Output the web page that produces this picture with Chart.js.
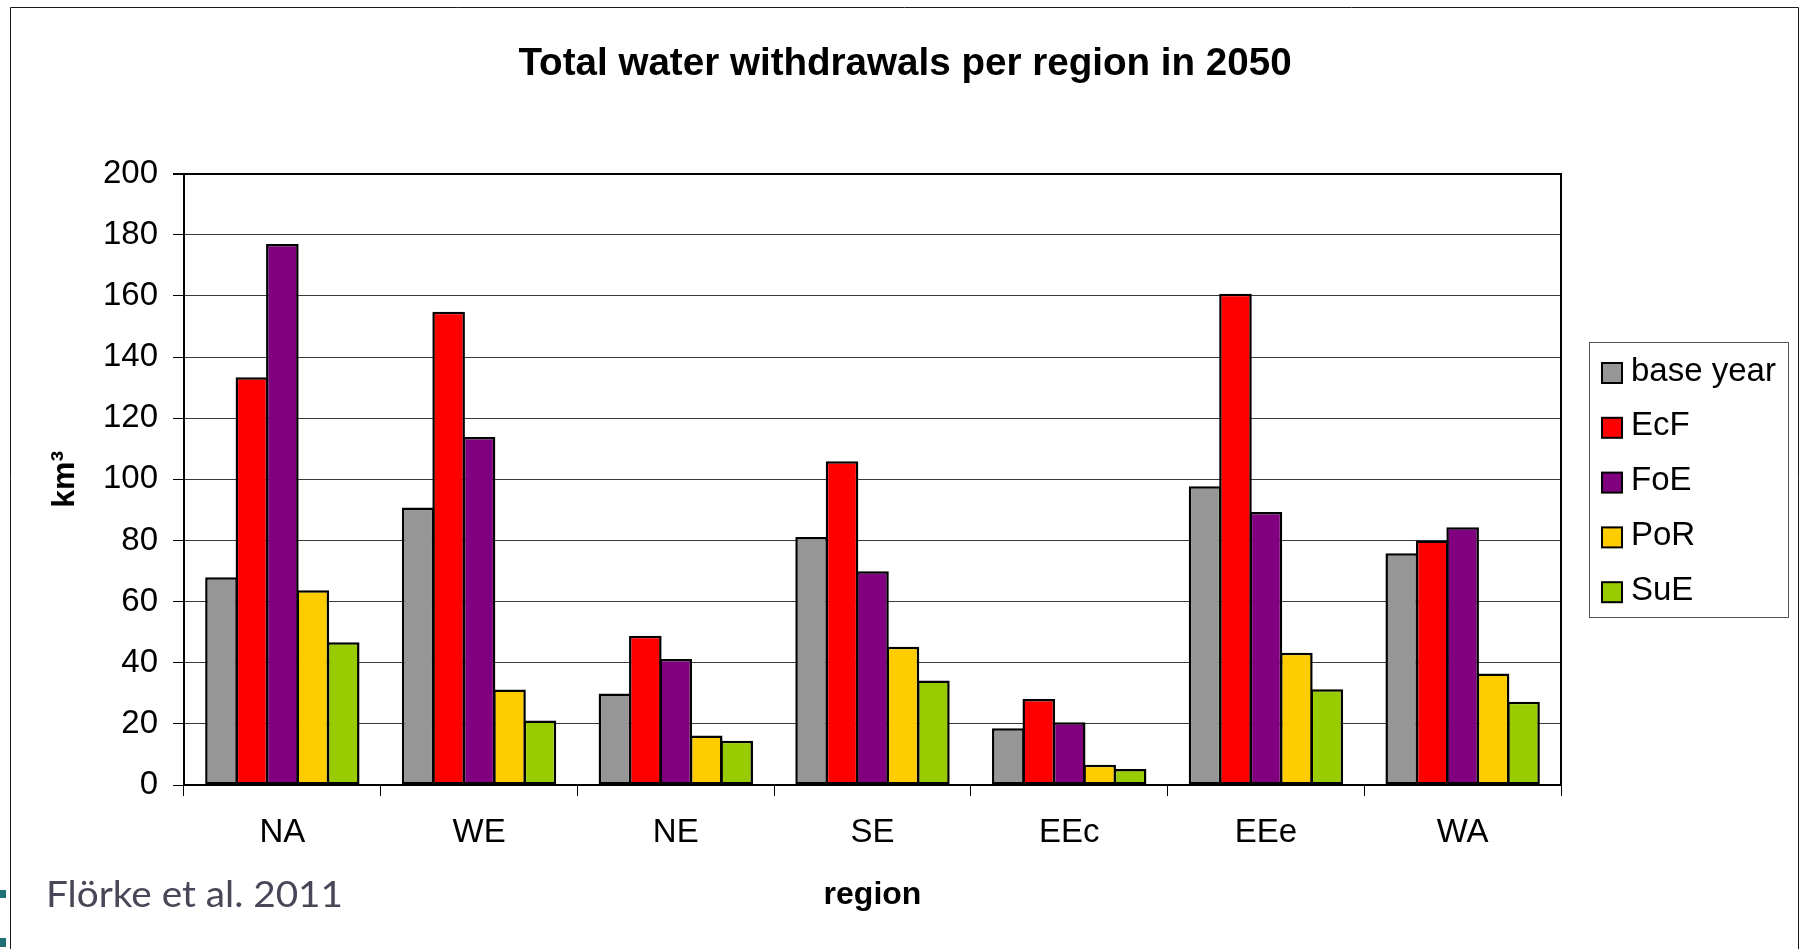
<!DOCTYPE html>
<html>
<head>
<meta charset="utf-8">
<title>Total water withdrawals per region in 2050</title>
<script src="https://cdn.jsdelivr.net/npm/chart.js@4.4.1/dist/chart.umd.min.js"></script>
<style>
  html, body { margin: 0; padding: 0; background: #ffffff; }
  canvas { display: block; }
</style>
</head>
<body>
<canvas id="chart" width="1802" height="949"></canvas>
<script>
// Regions on the x axis
const regions = ['NA', 'WE', 'NE', 'SE', 'EEc', 'EEe', 'WA'];

// Withdrawals per scenario (km³)
const baseYear = [68.0, 90.8, 29.9, 81.1, 18.6, 97.7, 75.8];
const ecF      = [133.4, 154.8, 48.8, 105.9, 28.1, 160.7, 80.0];
const foE      = [177.0, 113.8, 41.2, 69.9, 20.5, 89.3, 84.3];
const poR      = [63.7, 31.2, 16.2, 45.2, 6.6, 43.3, 36.5];
const suE      = [46.7, 21.1, 14.5, 34.2, 5.2, 31.3, 27.2];

// Series names and fills
const seriesNames  = ['base year', 'EcF', 'FoE', 'PoR', 'SuE'];
const seriesValues = [baseYear, ecF, foE, poR, suE];
const seriesColors = ['#969696', '#ff0000', '#800080', '#ffcc00', '#99cc00'];

// Value axis range
const yMin = 0;
const yMax = 200;
const yStep = 20;

const FONT = '"Liberation Sans", Arial, Helvetica, sans-serif';
Chart.defaults.font.family = FONT;
Chart.defaults.color = '#000000';

// Slide frame around the chart plus the citation line
const slideFrame = {
  id: 'slideFrame',
  beforeDraw(chart) {
    const ctx = chart.ctx;
    ctx.save();
    ctx.fillStyle = '#ffffff';
    ctx.fillRect(0, 0, chart.width, chart.height);
    ctx.strokeStyle = '#1a1a1a';
    ctx.lineWidth = 1;
    ctx.beginPath();
    ctx.moveTo(10.5, 949);
    ctx.lineTo(10.5, 7.5);
    ctx.lineTo(1798.5, 7.5);
    ctx.lineTo(1798.5, 949);
    ctx.stroke();
    ctx.fillStyle = '#1f6f73';
    ctx.fillRect(0, 890, 6, 8);
    ctx.fillRect(0, 938, 6, 9);
    ctx.restore();
  },
  afterDraw(chart) {
    const ctx = chart.ctx;
    ctx.save();
    const txt = 'Flörke et al. 2011';
    ctx.font = '37px Lato, "Open Sans", sans-serif';
    ctx.fillStyle = '#474758';
    ctx.textBaseline = 'alphabetic';
    const w = ctx.measureText(txt).width;
    ctx.translate(46, 907);
    ctx.scale(297 / w, 1);
    ctx.fillText(txt, 0, 0);
    ctx.restore();
  }
};

// Boxed legend at the right of the plot
const boxedLegend = {
  id: 'boxedLegend',
  afterDraw(chart) {
    const ctx = chart.ctx;
    ctx.save();
    ctx.strokeStyle = '#555555';
    ctx.lineWidth = 1;
    ctx.strokeRect(1589.5, 342.5, 199, 275);
    ctx.font = '33px ' + FONT;
    ctx.textBaseline = 'middle';
    ctx.textAlign = 'left';
    chart.data.datasets.forEach((ds, i) => {
      const cy = 373 + i * 54.8;
      ctx.fillStyle = ds.backgroundColor;
      ctx.fillRect(1602, cy - 10, 20, 20);
      ctx.strokeStyle = '#000000';
      ctx.lineWidth = 2;
      ctx.strokeRect(1602, cy - 10, 20, 20);
      ctx.fillStyle = '#000000';
      ctx.fillText(ds.label, 1631, cy - 1.5);
    });
    ctx.restore();
  }
};

const datasets = seriesNames.map((name, i) => ({
  label: name,
  data: seriesValues[i],
  backgroundColor: seriesColors[i],
  borderColor: '#000000',
  borderWidth: 2.5,
  borderSkipped: false,
  categoryPercentage: 0.774,
  barPercentage: 1.07,
  yAxisID: 'y'
}));

new Chart(document.getElementById('chart'), {
  type: 'bar',
  data: { labels: regions, datasets },
  options: {
    responsive: false,
    animation: false,
    devicePixelRatio: 1,
    layout: { padding: { left: 8, right: 0, top: 0, bottom: 0 } },
    plugins: {
      legend: { display: false },
      tooltip: { enabled: false },
      title: {
        display: true,
        text: 'Total water withdrawals per region in 2050',
        color: '#000000',
        font: { family: FONT, size: 38.6, weight: 'bold' },
        padding: { top: 41.5, bottom: 85.8 }
      }
    },
    scales: {
      x: {
        grid: {
          display: true,
          offset: true,
          drawOnChartArea: false,
          drawTicks: true,
          tickLength: 11,
          color: '#000000',
          lineWidth: 1
        },
        border: { display: true, color: '#000000', width: 2 },
        ticks: { color: '#000000', font: { size: 33 }, padding: 17.5 },
        title: {
          display: true,
          text: 'region',
          color: '#000000',
          font: { size: 32, weight: 'bold' },
          padding: { top: 0, bottom: 34.7 }
        },
        afterFit(scale) { scale.height = 164; }
      },
      y: {
        position: 'left',
        min: yMin,
        max: yMax,
        ticks: { stepSize: yStep, color: '#000000', font: { size: 33 }, padding: 15 },
        grid: {
          color: (c) => (c.tick && c.tick.value === yMax ? '#000000' : '#3a3a3a'),
          lineWidth: (c) => (c.tick && c.tick.value === yMax ? 2 : 1),
          tickColor: '#000000',
          tickLength: 11
        },
        border: { display: true, color: '#000000', width: 2 },
        title: {
          display: true,
          text: 'km³',
          color: '#000000',
          font: { size: 32, weight: 'bold' },
          padding: { top: 38, bottom: 0 }
        },
        afterFit(scale) { scale.width = 176; }
      },
      yRight: {
        type: 'linear',
        position: 'right',
        min: yMin,
        max: yMax,
        grid: { display: false, drawOnChartArea: false, drawTicks: false },
        ticks: { display: false },
        border: { display: true, color: '#000000', width: 2 },
        afterFit(scale) { scale.width = 241; }
      }
    }
  },
  plugins: [slideFrame, boxedLegend]
});
</script>
</body>
</html>
